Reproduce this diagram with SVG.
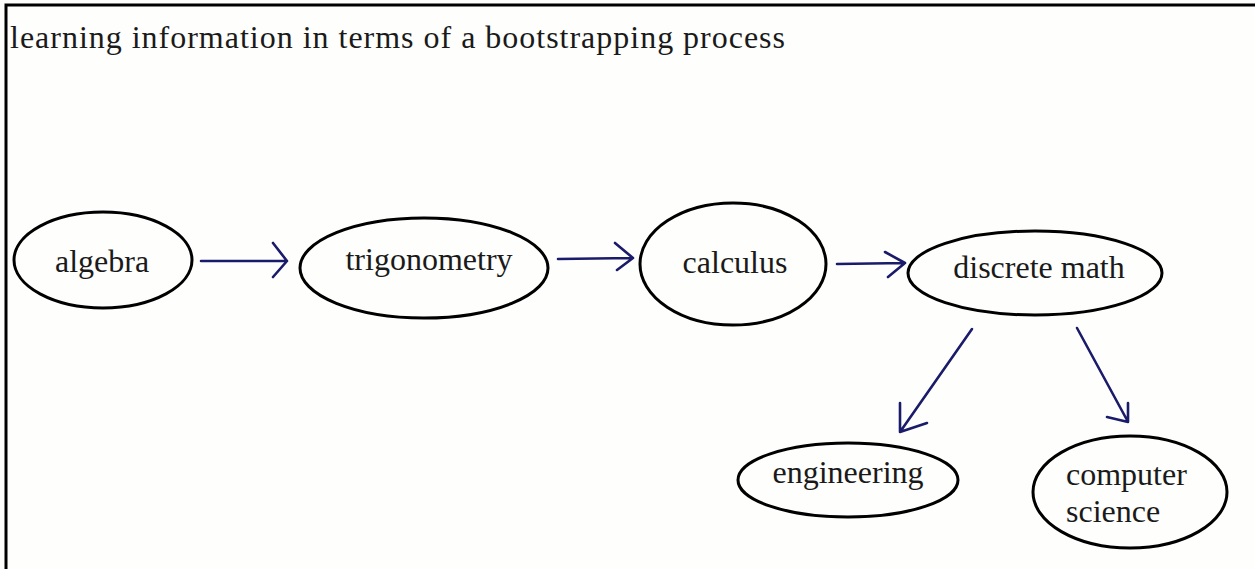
<svg xmlns="http://www.w3.org/2000/svg" width="1255" height="569" viewBox="0 0 1255 569">
<style>
.n{fill:none;stroke:#000;stroke-width:3}
.t{font-family:"Liberation Serif","Times New Roman",serif;font-size:32px;fill:#1a1a1a}
.c{fill:none;stroke:#1b1b6b;stroke-width:2.6;stroke-linecap:round;stroke-linejoin:round}
</style>
<rect x="0" y="0" width="1255" height="569" fill="#fefefd"/>
<path d="M6,569 V5 H1255" fill="none" stroke="#000" stroke-width="3"/>
<text x="10" y="48" class="t" textLength="775" lengthAdjust="spacing">learning information in terms of a bootstrapping process</text>
<g id="algebra"><ellipse class="n" cx="103" cy="260" rx="89" ry="48"/><text class="t" x="102" y="272" text-anchor="middle">algebra</text></g>
<g id="trigonometry"><ellipse class="n" cx="424" cy="268" rx="124" ry="50"/><text class="t" x="429" y="270" text-anchor="middle">trigonometry</text></g>
<g id="calculus"><ellipse class="n" cx="733" cy="264" rx="93" ry="61"/><text class="t" x="735" y="273" text-anchor="middle">calculus</text></g>
<g id="discrete"><ellipse class="n" cx="1035" cy="273" rx="127" ry="42"/><text class="t" x="1039" y="278" text-anchor="middle">discrete math</text></g>
<g id="engineering"><ellipse class="n" cx="848" cy="480" rx="110" ry="37"/><text class="t" x="848" y="483" text-anchor="middle">engineering</text></g>
<g id="cs"><ellipse class="n" cx="1130" cy="492" rx="97" ry="56"/><text class="t" x="1066" y="485">computer</text><text class="t" x="1066" y="522">science</text></g>
<g id="connectors">
<path class="c" d="M201,261 H287 M273,243 L287,261 L273,277"/>
<path class="c" d="M558,259 L633,258 M615,243 L633,258 L617,270"/>
<path class="c" d="M837,264 L905,263 M885,252 L905,263 L888,277"/>
<path class="c" d="M972,329 L900,432 M900,403 L900,432 L927,423"/>
<path class="c" d="M1077,328 L1127,420 M1128,403 L1128,422 L1107,417"/>
</g>
</svg>
